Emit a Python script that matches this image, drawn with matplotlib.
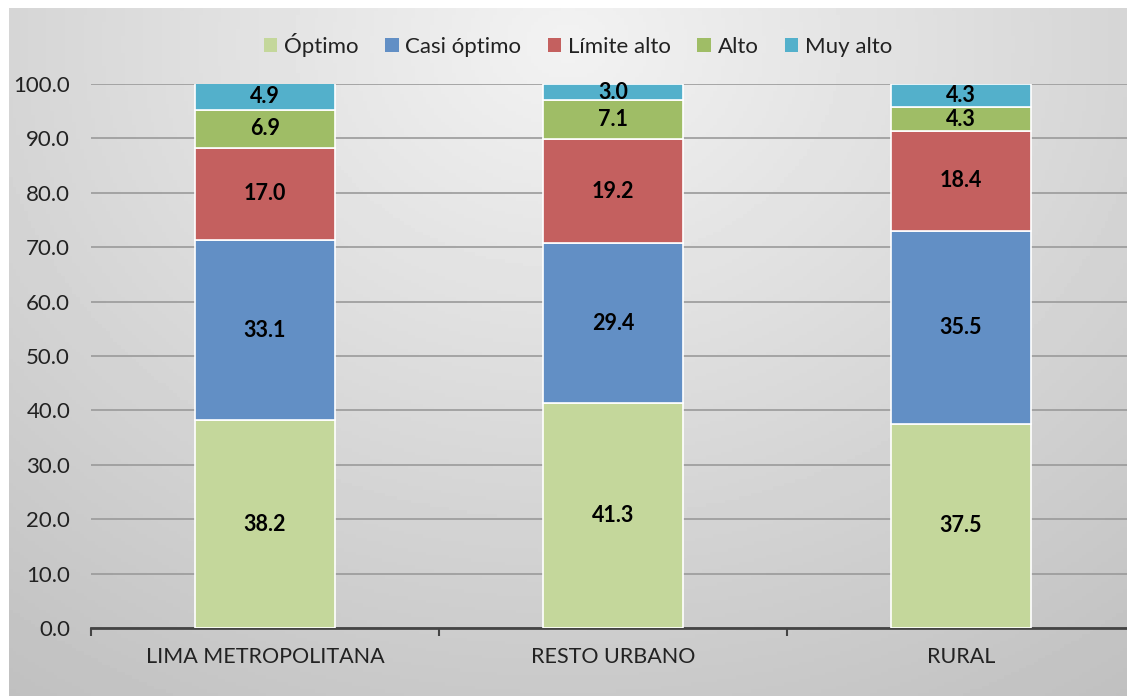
import numpy as np
import matplotlib.pyplot as plt
from matplotlib.patches import Patch

plt.rcParams['font.family'] = ['Lato', 'DejaVu Sans']

regions = ['LIMA METROPOLITANA', 'RESTO URBANO', 'RURAL']
series = ['Óptimo', 'Casi óptimo', 'Límite alto', 'Alto', 'Muy alto']
optimo = [38.2, 41.3, 37.5]
casi_optimo = [33.1, 29.4, 35.5]
limite_alto = [17.0, 19.2, 18.4]
alto = [6.9, 7.1, 4.3]
muy_alto = [4.9, 3.0, 4.3]
values = [optimo, casi_optimo, limite_alto, alto, muy_alto]
colors = ['#c4d79b', '#628fc5', '#c4605f', '#9fbd66', '#53b0cb']

W, H = 1127, 696
fig = plt.figure(figsize=(W / 100, H / 100), dpi=100)
fig.patch.set_facecolor('white')

# gradient background (radial, light near top centre)
bg = fig.add_axes([9 / W, 0, 1 - 9 / W, 1 - 8 / H])
yy, xx = np.mgrid[0:1:200j, 0:1:300j]
r = np.sqrt(((xx - 0.5) / 0.75) ** 2 + ((yy - 0.05) / 1.0) ** 2)
shade = 0.95 - 0.17 * np.clip(r, 0, 1.2)
bg.imshow(shade, cmap='gray', vmin=0, vmax=1, aspect='auto', extent=[0, 1, 1, 0])
bg.set_axis_off()

ax = fig.add_axes([91 / W, (H - 628) / H, 1 - 91 / W, (628 - 84) / H])
ax.patch.set_alpha(0)
x = np.arange(len(regions))
bottom = np.zeros(len(regions))
for name, vals, c in zip(series, values, colors):
    ax.bar(x, vals, 0.40, bottom=bottom, color=c, edgecolor='white',
           linewidth=1.2, label=name, zorder=3)
    for xi, b, v in zip(x, bottom, vals):
        ax.text(xi, b + v / 2, f'{v:.1f}', ha='center', va='center',
                fontsize=15.5, fontweight='bold', color='black', zorder=4)
    bottom += np.array(vals)

ax.set_ylim(0, 100)
ax.set_xlim(-0.5, -0.5 + (W - 91) / 348)
ax.set_yticks(np.arange(0, 101, 10))
ax.set_yticklabels([f'{v:.1f}' for v in np.arange(0, 101, 10)], fontsize=16, color='#222222')
ax.yaxis.grid(True, color='#9a9a9a', linewidth=1.2, zorder=0)
ax.tick_params(axis='y', length=0, pad=15)
ax.set_xticks(x)
ax.set_xticklabels(regions, fontsize=15.5, color='#222222')
ax.set_xticks([-0.5, 0.5, 1.5], minor=True)
ax.tick_params(axis='x', which='major', length=0, pad=14)
ax.tick_params(axis='x', which='minor', length=6, width=1.5, color='#444444', direction='out')
for s in ['top', 'right', 'left']:
    ax.spines[s].set_visible(False)
ax.spines['bottom'].set_color('#444444')
ax.spines['bottom'].set_linewidth(2)

handles = [Patch(facecolor=c, label=n) for n, c in zip(series, colors)]
fig.legend(handles=handles, loc='center', bbox_to_anchor=(0.513, 1 - 45 / H),
           ncol=5, frameon=False, fontsize=16, handlelength=0.6, handleheight=0.6,
           handletextpad=0.3, columnspacing=1.2, labelcolor='#222222')

fig.savefig('out.png', dpi=100)
